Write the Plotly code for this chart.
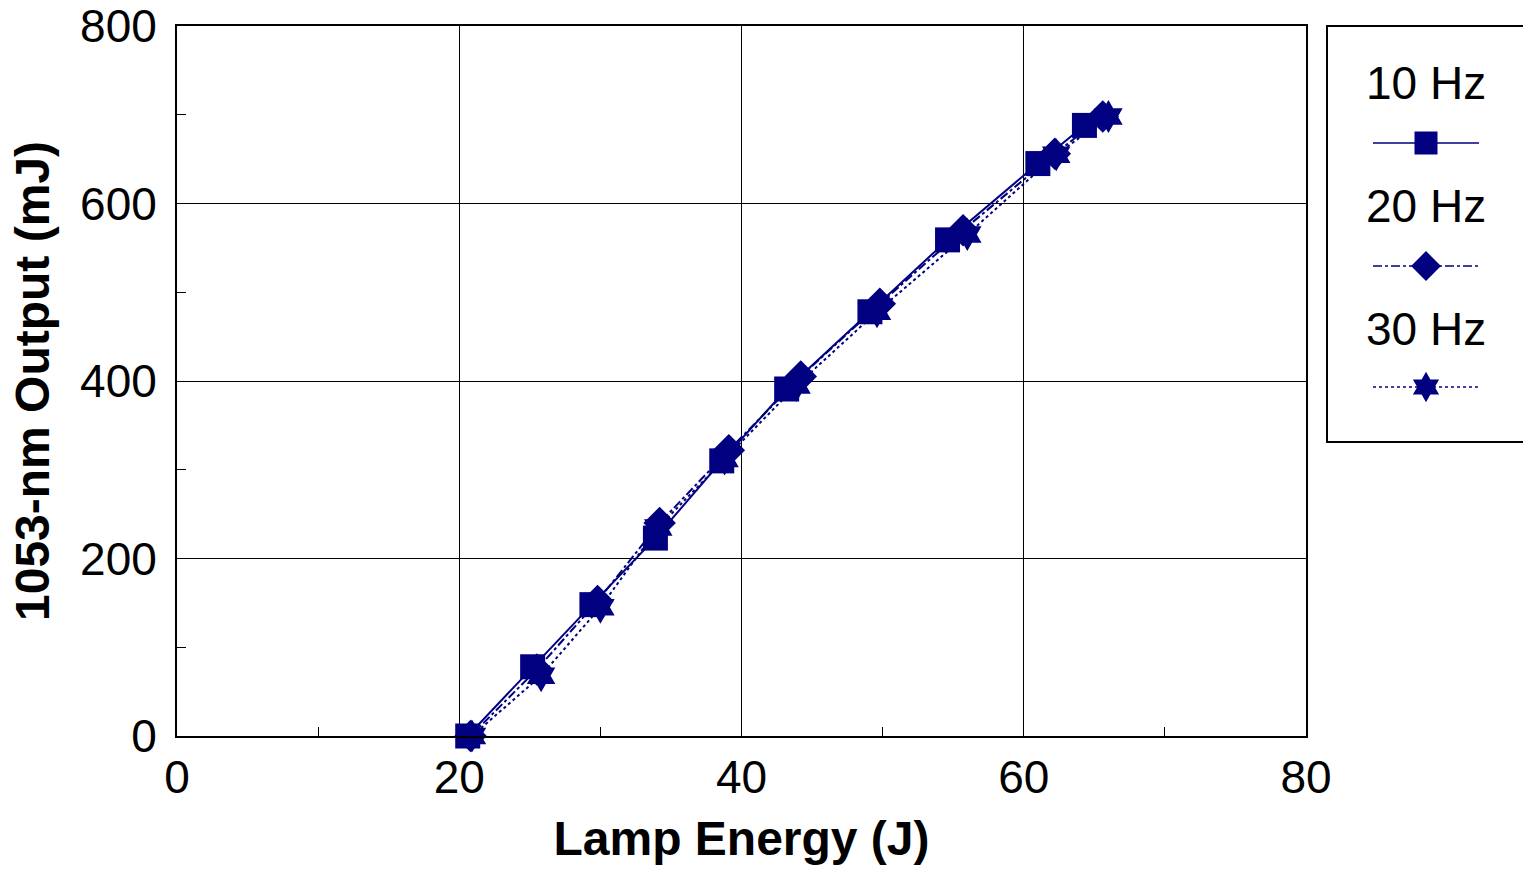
import plotly.graph_objects as go

W, H = 1523, 869
NAVY = "#000080"

# ---- data ----
lamp_10hz = [20.6, 25.2, 29.4, 33.9, 38.6, 43.2, 49.1, 54.6, 61.0, 64.3]
out_10hz = [0, 78, 148, 223, 310, 391, 478, 559, 645, 688]
lamp_20hz = [20.8, 25.5, 29.8, 34.2, 39.1, 44.2, 49.8, 55.7, 62.2, 65.6]
out_20hz = [0, 75, 152, 240, 322, 405, 487, 570, 656, 698]
lamp_30hz = [20.9, 25.8, 30.0, 34.1, 38.8, 43.9, 49.6, 56.0, 62.3, 66.0]
out_30hz = [0, 68, 145, 235, 312, 395, 478, 565, 655, 698]

series_names = ["10 Hz", "20 Hz", "30 Hz"]
x_ticks = [0, 20, 40, 60, 80]
y_ticks = [0, 200, 400, 600, 800]

styles = {
    "10 Hz": dict(dash="solid", symbol="square", size=25),
    "20 Hz": dict(dash="dashdot", symbol="diamond", size=25),
    "30 Hz": dict(dash="dot", symbol="hexagram", size=25),
}
data = {
    "10 Hz": (lamp_10hz, out_10hz),
    "20 Hz": (lamp_20hz, out_20hz),
    "30 Hz": (lamp_30hz, out_30hz),
}

fig = go.Figure()
for name in reversed(series_names):
    xs, ys = data[name]
    st = styles[name]
    fig.add_trace(go.Scatter(
        x=xs, y=ys, mode="lines+markers", name=name, showlegend=False,
        line=dict(color=NAVY, width=2, dash=st["dash"]),
        marker=dict(symbol=st["symbol"], size=st["size"], color=NAVY,
                    line=dict(width=0), opacity=1),
        xaxis="x", yaxis="y", cliponaxis=False,
    ))

# ---- custom legend (text above sample) on a pixel-space overlay axis ----
leg_text_y = [83, 206, 329]
leg_line_y = [143, 266, 387]
for name, ty, ly in zip(series_names, leg_text_y, leg_line_y):
    st = styles[name]
    fig.add_trace(go.Scatter(
        x=[1373, 1479], y=[ly, ly], mode="lines",
        showlegend=False, xaxis="x2", yaxis="y2",
        line=dict(color=NAVY, width=1.5, dash=st["dash"]),
    ))
    fig.add_trace(go.Scatter(
        x=[1426], y=[ly], mode="markers",
        showlegend=False, xaxis="x2", yaxis="y2",
        marker=dict(symbol=st["symbol"], size=st["size"] - 2, color=NAVY,
                    line=dict(width=0), opacity=1),
    ))
    fig.add_annotation(x=1426, y=ty, xref="x2", yref="y2", text=name, showarrow=False,
                       font=dict(family="Liberation Sans, Arial", size=46, color="black"),
                       xanchor="center", yanchor="middle")

fig.add_shape(type="rect", xref="paper", yref="paper",
              x0=1327 / W, x1=1545 / W, y0=1 - 442 / H, y1=1 - 26 / H,
              line=dict(color="black", width=2), fillcolor="rgba(0,0,0,0)", layer="above")

x0p, x1p = 177 / W, 1306 / W
y0p, y1p = 1 - 736 / H, 1 - 26 / H

axis_common = dict(
    showline=True, linecolor="black", linewidth=2, mirror=True,
    showgrid=True, gridcolor="black", gridwidth=1,
    zeroline=False, ticks="",
    tickfont=dict(family="Liberation Sans, Arial", size=46, color="black"),
)

fig.update_layout(
    width=W, height=H,
    margin=dict(l=0, r=0, t=0, b=0),
    paper_bgcolor="white", plot_bgcolor="rgba(0,0,0,0)",
    template="none",
    showlegend=False,
    xaxis=dict(
        domain=[x0p, x1p], range=[0, 80], tickvals=x_ticks,
        minor=dict(tickvals=[10, 30, 50, 70], ticks="inside", ticklen=9,
                   tickcolor="black", showgrid=False),
        title=dict(text="<b>Lamp Energy (J)</b>", standoff=19,
                   font=dict(family="Liberation Sans, Arial", size=48, color="black")),
        ticklabelstandoff=0, anchor="y",
        **axis_common,
    ),
    yaxis=dict(
        domain=[y0p, y1p], range=[0, 800], tickvals=y_ticks,
        minor=dict(tickvals=[100, 300, 500, 700], ticks="inside", ticklen=9,
                   tickcolor="black", showgrid=False),
        title=dict(text="<b>1053-nm Output (mJ)</b>", standoff=15,
                   font=dict(family="Liberation Sans, Arial", size=48, color="black")),
        ticklabelstandoff=9, anchor="x",
        **axis_common,
    ),
    xaxis2=dict(domain=[0, 1], range=[0, W], visible=False, anchor="y2",
                fixedrange=True),
    yaxis2=dict(domain=[0, 1], range=[H, 0], visible=False, anchor="x2",
                fixedrange=True),
)

fig.write_html("out.html")
